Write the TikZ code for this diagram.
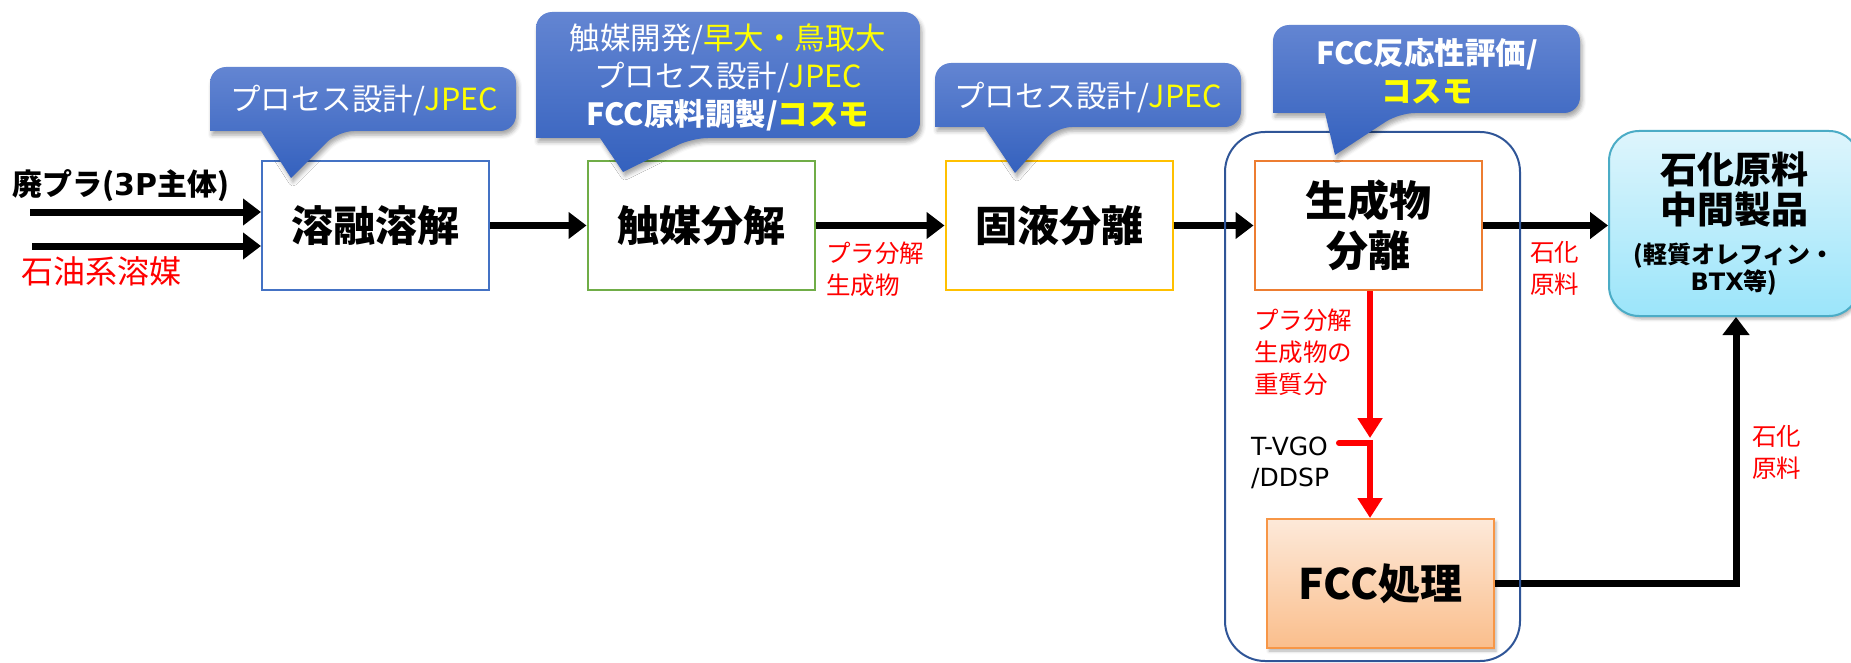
\documentclass[tikz,border=0pt]{standalone}
\usepackage{fontspec}
\setmainfont{Noto Sans CJK JP}
\newfontfamily\latf{DejaVu Sans}
\usetikzlibrary{arrows.meta,shadows.blur}
\definecolor{cblue}{RGB}{68,114,196}
\definecolor{cgreen}{RGB}{112,173,71}
\definecolor{cgold}{RGB}{255,192,0}
\definecolor{corange}{RGB}{237,125,49}
\definecolor{ctop}{RGB}{99,133,210}
\definecolor{cbot}{RGB}{52,97,190}
\definecolor{cyel}{RGB}{255,255,0}
\definecolor{cred}{RGB}{255,0,0}
\definecolor{grpblue}{RGB}{47,85,151}
\definecolor{fcctop}{RGB}{253,233,217}
\definecolor{fccbot}{RGB}{250,190,140}
\definecolor{fccline}{RGB}{247,150,70}
\definecolor{fintop}{RGB}{222,245,252}
\definecolor{finbot}{RGB}{155,229,250}
\definecolor{finline}{RGB}{75,172,198}
\begin{document}
\begin{tikzpicture}[x=1pt,y=-1pt,
 procbox/.style={draw, line width=2pt, fill=white, minimum width=227pt, minimum height=129pt, inner sep=0pt, align=center, font=\fontsize{42}{50}\selectfont\bfseries},
 blackflow/.style={line width=7pt, -{Triangle[length=18pt,width=26pt]}},
 redflow/.style={draw=cred, line width=6pt, -{Triangle[length=20pt,width=24pt]}},
 bubble/.style={top color=ctop, bottom color=cbot, blur shadow={shadow xshift=2pt, shadow yshift=-4pt, shadow blur radius=4pt, shadow opacity=35}},
 calltext/.style={text=white, align=center, font=\fontsize{30.5}{38}\selectfont, inner sep=0pt},
 redlabel/.style={text=cred, align=left, anchor=west, inner sep=0pt, font=\fontsize{24.5}{32}\selectfont},
]
\useasboundingbox (0,0) rectangle (1851,663);

% process boxes
\node[procbox, draw=cblue] (melt) at (375.5,225.5) {溶融溶解};
\node[procbox, draw=cgreen] (cat) at (701,225.5) {触媒分解};
\node[procbox, draw=cgold] (sep) at (1059,225.5) {固液分離};
\node[procbox, draw=corange] (prod) at (1368,225.5) {生成物\\分離};
\node[procbox, draw=fccline, top color=fcctop, bottom color=fccbot,
      blur shadow={shadow xshift=2pt, shadow yshift=-3pt, shadow blur radius=3pt, shadow opacity=30}] (fcc) at (1380.5,583.5) {FCC処理};
\node[draw=finline, line width=2pt, rounded corners=30pt, top color=fintop, bottom color=finbot,
      minimum width=250pt, minimum height=185pt, align=center, inner sep=0pt,
      font=\fontsize{37}{40}\selectfont\bfseries,
      blur shadow={shadow xshift=2pt, shadow yshift=-3pt, shadow blur radius=3pt, shadow opacity=30}] (final) at (1734,223.5)
  {石化原料\\中間製品\\{\fontsize{24}{26}\selectfont (軽質オレフィン・}\\[-13pt]{\fontsize{24}{26}\selectfont {\latf BTX}等)}};

% source labels
\node[anchor=west, inner sep=0pt, font=\fontsize{30}{36}\selectfont\bfseries] (src1) at (12,186) {廃プラ({\latf 3P}主体)};
\node[anchor=west, inner sep=0pt, text=cred, font=\fontsize{32}{36}\selectfont] (src2) at (21,271) {石油系溶媒};

% black flows
\coordinate (in1) at (30,212);
\coordinate (in2) at (32,246);
\draw[blackflow] (in1) -- (melt.west |- in1);
\draw[blackflow] (in2) -- (melt.west |- in2);
\draw[blackflow] (melt.east) -- (cat.west);
\draw[blackflow] (cat.east) -- (sep.west);
\draw[blackflow] (sep.east) -- (prod.west);
\draw[blackflow] (prod.east) -- (final.west |- prod.east);
\coordinate (fj) at (1736,583.5);
\draw[blackflow] (fcc.east) -- (fj) -- (fj |- final.south);

% red flows
\coordinate (rtip) at (1370,438);
\coordinate (rj) at (1370,443);
\coordinate (stub) at (1339,443);
\draw[redflow] (prod.south -| rtip) -- (rtip);
\draw[redflow, line cap=round] (stub) -- (rj) -- (fcc.north -| rj);

% flow labels
\node[redlabel] (lab1) at (826,269) {プラ分解\\生成物};
\node[redlabel] (lab2) at (1530,268) {石化\\原料};
\node[redlabel] (lab3) at (1254,352) {プラ分解\\生成物の\\重質分};
\node[anchor=west, align=left, inner sep=0pt, font=\latf\fontsize{25}{31}\selectfont] (lab4) at (1251,463) {T-VGO\\/DDSP};
\node[redlabel] (lab5) at (1752,452) {石化\\原料};

% group container
\node[draw=grpblue, line width=2pt, rounded corners=40pt, minimum width=295pt, minimum height=529pt, inner sep=0pt] (grp) at (1372.5,396.5) {};

% callouts
\path[bubble] (291,178) -- (261,131) -- (210,131) [rounded corners=16pt] -- (210,67) -- (516,67) -- (516,131) -- (338,131) [sharp corners] -- cycle;
\node[calltext] (c1) at (364,100) {プロセス設計/\textcolor{cyel}{JPEC}};

\path[bubble] (623,172) -- (600,138) -- (536,138) [rounded corners=16pt] -- (536,12) -- (920,12) -- (920,138) -- (692,138) [sharp corners] -- cycle;
\node[calltext] (c2) at (728,77) {触媒開発/\textcolor{cyel}{早大・鳥取大}\\プロセス設計/\textcolor{cyel}{JPEC}\\\textbf{FCC原料調製/\textcolor{cyel}{コスモ}}};

\path[bubble] (1015,173) -- (984,127) -- (935,127) [rounded corners=16pt] -- (935,63) -- (1241,63) -- (1241,127) -- (1056,127) [sharp corners] -- cycle;
\node[calltext] (c3) at (1088,97) {プロセス設計/\textcolor{cyel}{JPEC}};

\path[bubble] (1335,155) -- (1325,113) -- (1273,113) [rounded corners=16pt] -- (1273,25) -- (1580,25) -- (1580,113) -- (1399,113) [sharp corners] -- cycle;
\node[calltext, font=\fontsize{30.5}{38}\selectfont\bfseries] (c4) at (1427,71) {FCC反応性評価/\\\textcolor{cyel}{コスモ}};
\end{tikzpicture}
\end{document}
